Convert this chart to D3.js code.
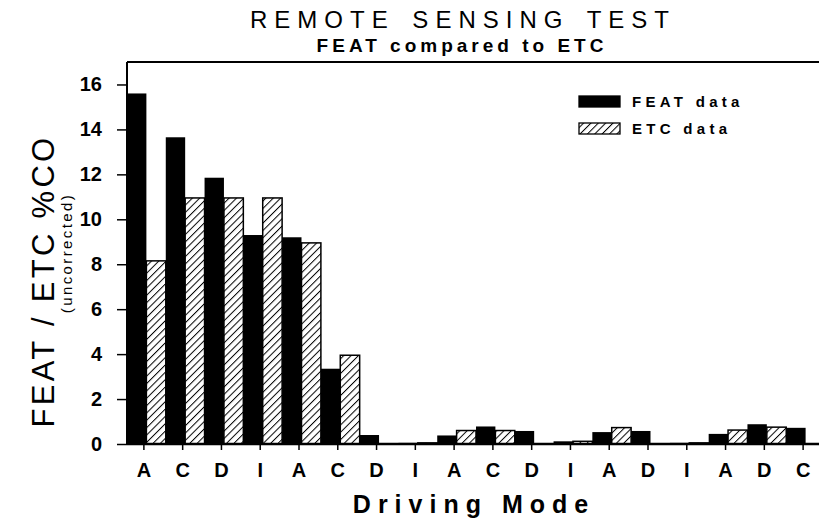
<!DOCTYPE html>
<html>
<head>
<meta charset="utf-8">
<script src="https://cdn.jsdelivr.net/npm/d3@7/dist/d3.min.js"></script>
<style>
  html, body { margin: 0; padding: 0; background: #fff; }
  svg { display: block; }
  text { font-family: "Liberation Sans", Arial, sans-serif; fill: #000; }
</style>
</head>
<body>
<svg id="chart" width="819" height="521"></svg>
<script>
const categories = ["A","C","D","I","A","C","D","I","A","C","D","I","A","D","I","A","D","C"];
const featData = [15.6, 13.65, 11.85, 9.3, 9.2, 3.35, 0.4, 0.05, 0.38, 0.78, 0.58, 0.12, 0.53, 0.58, 0.05, 0.45, 0.88, 0.72];
const etcData  = [8.15, 10.95, 10.95, 10.95, 8.95, 3.95, 0.0, 0.05, 0.6, 0.6, 0.0, 0.12, 0.73, 0.0, 0.05, 0.62, 0.75, 0.0];
const yTicks = [0, 2, 4, 6, 8, 10, 12, 14, 16];
const seriesNames = ["FEAT data", "ETC data"];

const svg = d3.select("#chart");
const pLeft = 127, pRight = 825, pTop = 62, pBottom = 444;

const defs = svg.append("defs");
const pat = defs.append("pattern")
  .attr("id", "hatch").attr("patternUnits", "userSpaceOnUse")
  .attr("width", 5.2).attr("height", 5.2)
  .attr("patternTransform", "rotate(45)");
pat.append("rect").attr("width", 5.2).attr("height", 5.2).attr("fill", "#fff");
pat.append("line").attr("x1", 0).attr("y1", 0).attr("x2", 0).attr("y2", 5.2)
  .attr("stroke", "#000").attr("stroke-width", 2);

const x = d3.scaleBand().domain(d3.range(categories.length)).range([pLeft, pRight]).padding(0);
const sub = d3.scaleBand().domain([0, 1]).range([0, x.bandwidth()]).padding(0);
const y = d3.scaleLinear().domain([0, 17]).range([pBottom, pTop]);

// bars
const g = svg.append("g");
categories.forEach((c, i) => {
  const vals = [featData[i], etcData[i]];
  vals.forEach((v, j) => {
    if (v <= 0) return;
    g.append("rect")
      .attr("x", x(i) + sub(j))
      .attr("y", y(v))
      .attr("width", sub.bandwidth())
      .attr("height", y(0) - y(v))
      .attr("fill", j === 0 ? "#000" : "url(#hatch)")
      .attr("stroke", "#000")
      .attr("stroke-width", j === 0 ? 0 : 1.5);
  });
});

// frame: top line
svg.append("line").attr("x1", pLeft).attr("x2", 819).attr("y1", pTop).attr("y2", pTop)
  .attr("stroke", "#000").attr("stroke-width", 2);

// y axis
const yAxis = d3.axisLeft(y).tickValues(yTicks).tickSize(10).tickPadding(15).tickFormat(d3.format("d"));
const ya = svg.append("g").attr("transform", `translate(${pLeft},0)`).call(yAxis);
ya.select(".domain").attr("stroke-width", 2).attr("d", `M0,${pBottom}V${pTop}`);
ya.selectAll(".tick line").attr("stroke-width", 1.5);
ya.selectAll(".tick text").attr("font-size", 20).attr("font-weight", "bold")
  .attr("font-family", "Liberation Sans, Arial, sans-serif");

// x axis
const xAxis = d3.axisBottom(x).tickSize(6).tickPadding(13).tickFormat(i => categories[i]);
const xa = svg.append("g").attr("transform", `translate(-2.5,${pBottom})`).call(xAxis);
xa.select(".domain").attr("stroke-width", 2.5).attr("d", `M${pLeft + 2.5},0H${822}`);
xa.selectAll(".tick line").attr("stroke-width", 1.5);
xa.selectAll(".tick text").attr("font-size", 20).attr("font-weight", "bold")
  .attr("font-family", "Liberation Sans, Arial, sans-serif");

// titles
svg.append("text").attr("x", 463).attr("y", 28).attr("text-anchor", "middle")
  .attr("font-size", 24).attr("letter-spacing", 7).attr("word-spacing", 4).text("REMOTE SENSING TEST");
svg.append("text").attr("x", 462).attr("y", 52).attr("text-anchor", "middle")
  .attr("font-size", 19).attr("font-weight", "bold").attr("letter-spacing", 4).text("FEAT compared to ETC");

svg.append("text").attr("x", 474).attr("y", 513).attr("text-anchor", "middle")
  .attr("font-size", 25).attr("font-weight", "bold").attr("letter-spacing", 7).text("Driving Mode");

svg.append("text").attr("transform", "translate(54,281) rotate(-90)").attr("text-anchor", "middle")
  .attr("font-size", 31).attr("letter-spacing", 3.3).text("FEAT / ETC %CO");
svg.append("text").attr("transform", "translate(72,253) rotate(-90)").attr("text-anchor", "middle")
  .attr("font-size", 15).attr("letter-spacing", 2.4).text("(uncorrected)");

// legend
const lg = svg.append("g");
seriesNames.forEach((n, j) => {
  const yy = 96 + j * 27;
  lg.append("rect").attr("x", 579).attr("y", yy).attr("width", 41).attr("height", 11)
    .attr("fill", j === 0 ? "#000" : "url(#hatch)").attr("stroke", "#000").attr("stroke-width", 1.3);
  lg.append("text").attr("x", 632).attr("y", yy + 10.5).attr("font-size", 15).attr("font-weight", "bold")
    .attr("letter-spacing", 4.3).text(n);
});
</script>
</body>
</html>
